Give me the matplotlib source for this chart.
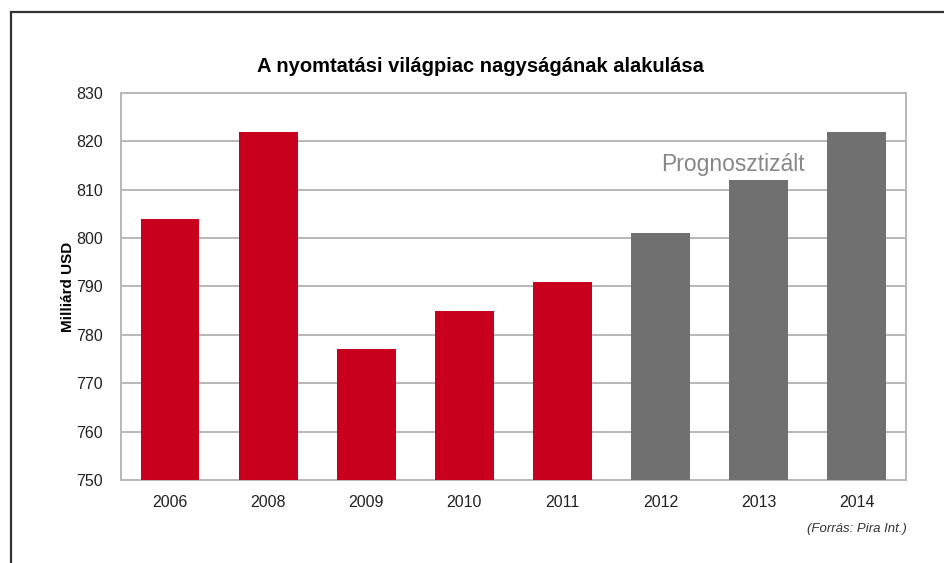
import matplotlib
matplotlib.use("Agg")
import matplotlib.pyplot as plt
from matplotlib.patches import Rectangle

plt.rcParams["font.family"] = ["Liberation Sans", "DejaVu Sans"]

years = ["2006", "2008", "2009", "2010", "2011", "2012", "2013", "2014"]
values = [804, 822, 777, 785, 791, 801, 812, 822]
forecast = [False, False, False, False, False, True, True, True]

RED = "#C8001E"
GRAY = "#707070"
GRID = "#B8B8B8"

fig = plt.figure(figsize=(9.45, 5.63), dpi=100)
ax = fig.add_axes([121 / 945, 1 - 480 / 563, 785 / 945, 387 / 563])

colors = [GRAY if f else RED for f in forecast]
ax.bar(range(len(years)), [v - 750 for v in values], bottom=750,
       width=0.6, color=colors, zorder=3)

ax.set_xlim(-0.5, len(years) - 0.5)
ax.set_ylim(750, 830)
ax.set_yticks(range(750, 831, 10))
ax.set_xticks(range(len(years)))
ax.set_xticklabels(years)
ax.tick_params(axis="both", length=0, labelsize=11.5, colors="#222222")
ax.tick_params(axis="y", pad=13)
ax.tick_params(axis="x", pad=11)
ax.yaxis.grid(True, color=GRID, linewidth=1.4, zorder=0)
for s in ax.spines.values():
    s.set_color(GRID)
    s.set_linewidth(1.4)

ax.set_ylabel("Milliárd USD", fontsize=11, fontweight="bold")
ax.yaxis.set_label_coords(-0.0586, 0.5)

ax.text(5.74, 815.3, "Prognosztizált", fontsize=16.5, color="#888888",
        ha="center", va="center", zorder=4)

fig.text(480 / 945, 1 - 67 / 563, "A nyomtatási világpiac nagyságának alakulása",
         ha="center", va="center", fontsize=14.5, fontweight="bold")
fig.text(907 / 945, 1 - 529 / 563, "(Forrás: Pira Int.)", ha="right", va="center",
         fontsize=9.5, style="italic", color="#333333")

fig.patches.append(Rectangle((11 / 945, -0.1), 1.2, 1 - 12 / 563 + 0.1,
                             transform=fig.transFigure, fill=False,
                             edgecolor="#333333", linewidth=1.6))

fig.savefig("out.png", dpi=100)
